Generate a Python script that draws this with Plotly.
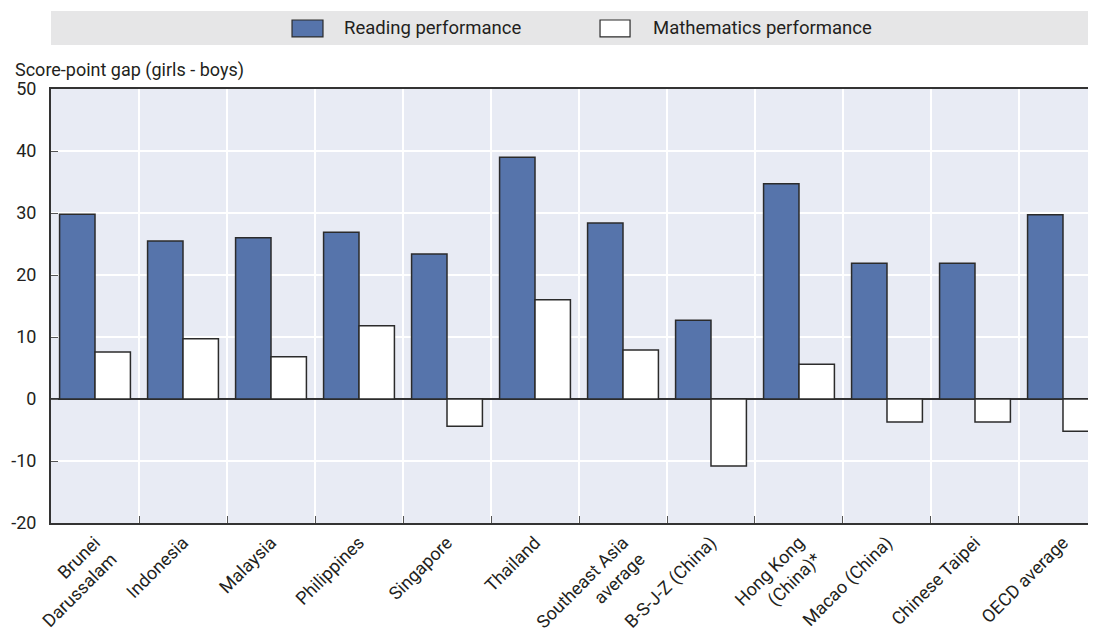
import plotly.graph_objects as go

categories = ["Brunei<br>Darussalam", "Indonesia", "Malaysia", "Philippines", "Singapore",
              "Thailand", "Southeast Asia<br>average", "B-S-J-Z (China)", "Hong Kong<br>(China)*",
              "Macao (China)", "Chinese Taipei", "OECD average"]
reading = [29.8, 25.5, 26.0, 26.9, 23.4, 39.0, 28.4, 12.7, 34.7, 21.9, 21.9, 29.7]
maths = [7.6, 9.7, 6.8, 11.8, -4.4, 16.0, 7.9, -10.8, 5.6, -3.7, -3.7, -5.2]
yticks = [-20, -10, 0, 10, 20, 30, 40, 50]
ytick_labels = ["-20", "-10", "0", "10", "20", "30", "40", "50"]
series_names = ["Reading performance", "Mathematics performance"]
series_colors = ["#5674ab", "#ffffff"]

FONT = "Roboto, Liberation Sans Narrow, sans-serif"
TXT = "#231f20"
EDGE = "#2b2b2b"

fig = go.Figure()
for name, vals, col in zip(series_names, [reading, maths], series_colors):
    fig.add_trace(go.Bar(x=categories, y=vals, name=name, showlegend=False,
                         marker=dict(color=col, line=dict(color=EDGE, width=1.5))))

# legend band
fig.add_shape(type="rect", xref="paper", yref="paper", x0=0, x1=1, y0=1.1014, y1=1.1797,
              fillcolor="#e6e6e7", line=dict(width=0), layer="below")
# manual legend entries
leg_x = [(0.2289, 0.2583, 0.2764), (0.5214, 0.5499, 0.5698)]
for (x0, x1, xt), name, col in zip(leg_x, series_names, series_colors):
    fig.add_shape(type="rect", xref="paper", yref="paper", x0=x0, x1=x1, y0=1.120, y1=1.159,
                  fillcolor=col, line=dict(color=EDGE, width=1.2))
    fig.add_annotation(text=name, xref="paper", yref="paper", x=xt, y=1.1395,
                       xanchor="left", yanchor="middle", showarrow=False,
                       font=dict(family=FONT, size=18.5, color=TXT))

fig.add_annotation(text="Score-point gap (girls - boys)", xref="paper", yref="paper",
                   x=-0.0361, y=1.0438, xanchor="left", yanchor="middle", showarrow=False,
                   font=dict(family=FONT, size=18, color=TXT))

fig.update_layout(
    width=1096, height=642,
    margin=dict(l=43, r=0, t=81, b=127, autoexpand=False),
    paper_bgcolor="white", plot_bgcolor="#e8ebf4",
    barmode="group", bargap=0.195, bargroupgap=0,
    font=dict(family=FONT, size=18, color=TXT),
    showlegend=False,
    xaxis=dict(type="category", range=[-0.5, 11.466], tickson="boundaries", automargin=False,
               showgrid=True, gridcolor="white", gridwidth=1.5,
               ticks="inside", ticklen=7, tickcolor="#555", tickwidth=1.2,
               showline=True, linecolor="#333", linewidth=2, mirror=True,
               tickangle=-45, tickfont=dict(family=FONT, size=18, color=TXT)),
    yaxis=dict(range=[-20, 50], tickvals=yticks, ticktext=ytick_labels, automargin=False,
               showgrid=True, gridcolor="white", gridwidth=1.5,
               ticks="inside", ticklen=7, tickcolor="#555", tickwidth=1.2,
               showline=True, linecolor="#333", linewidth=2,
               zeroline=True, zerolinecolor="#333", zerolinewidth=1.5,
               tickfont=dict(family=FONT, size=18, color=TXT), ticklabelstandoff=9),
)

fig.write_html("out.html")
